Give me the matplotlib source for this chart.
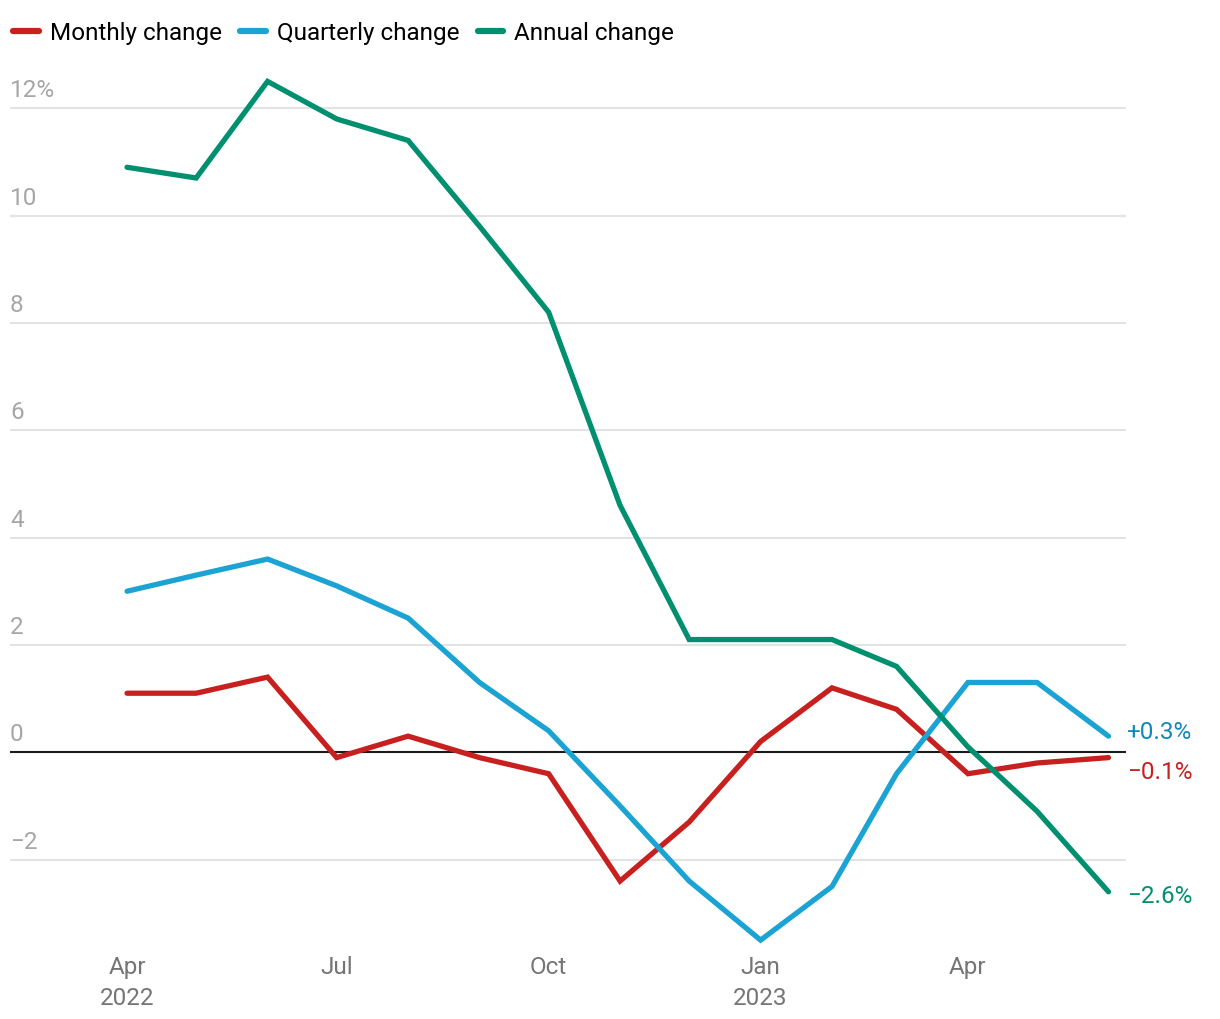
import matplotlib
matplotlib.use('Agg')
import matplotlib.pyplot as plt
from matplotlib.lines import Line2D
import pandas as pd

plt.rcParams['font.family'] = ['Roboto', 'DejaVu Sans']

# Data: monthly points, Apr 2022 .. Jun 2023
months = pd.date_range('2022-04-01', '2023-06-01', freq='MS')
monthly = [1.1, 1.1, 1.4, -0.1, 0.3, -0.1, -0.4, -2.4, -1.3, 0.2, 1.2, 0.8, -0.4, -0.2, -0.1]
quarterly = [3.0, 3.3, 3.6, 3.1, 2.5, 1.3, 0.4, -1.0, -2.4, -3.5, -2.5, -0.4, 1.3, 1.3, 0.3]
annual = [10.9, 10.7, 12.5, 11.8, 11.4, 9.8, 8.2, 4.6, 2.1, 2.1, 2.1, 1.6, 0.1, -1.1, -2.6]

series_names = ['Monthly change', 'Quarterly change', 'Annual change']
end_labels = ['\u22120.1%', '+0.3%', '\u22122.6%']
end_offsets = [-10, 3, -3]   # vertical nudge (points) so labels don't collide
colors = ['#c8201f', '#1ba3d3', '#00906f']
label_colors = ['#c8201f', '#1188b8', '#00906f']

x_ticks = pd.to_datetime(['2022-04-01', '2022-07-01', '2022-10-01', '2023-01-01', '2023-04-01'])
x_ticklabels = ['Apr\n2022', 'Jul', 'Oct', 'Jan\n2023', 'Apr']
y_ticks = [-2, 0, 2, 4, 6, 8, 10, 12]
y_ticklabels = ['\u22122', '0', '2', '4', '6', '8', '10', '12%']

FS = 17.5

fig = plt.figure(figsize=(12.2, 10.2), dpi=100)
ax = fig.add_axes([10 / 1220, 1 - 947 / 1020, 1116 / 1220, 885 / 1020])
start = months[0]
ax.set_xlim(start - pd.Timedelta(days=50.8), start + pd.Timedelta(days=433.6))
ax.set_ylim(-3.61, 12.88)

for yv in y_ticks:
    if yv == 0:
        continue
    ax.axhline(yv, color='#e3e3e3', lw=1.5, zorder=1)
ax.axhline(0, color='#1a1a1a', lw=1.5, zorder=2)

for vals, c in zip([monthly, quarterly, annual], colors):
    ax.plot(months, vals, color=c, lw=3.8, solid_capstyle='round', solid_joinstyle='miter', zorder=3)

# y labels drawn inside plot, above gridlines
for yv, lab in zip(y_ticks, y_ticklabels):
    ax.annotate(lab, xy=(0, yv), xycoords=('axes fraction', 'data'),
                xytext=(0, 5), textcoords='offset points',
                ha='left', va='bottom', fontsize=FS, color='#a6a6a6')

# end labels
for vals, lab, c, dy in zip([monthly, quarterly, annual], end_labels, label_colors, end_offsets):
    ax.annotate(lab, xy=(months[-1], vals[-1]), xytext=(13, dy), textcoords='offset points',
                ha='left', va='center', fontsize=FS, color=c, annotation_clip=False)

ax.set_xticks(x_ticks)
ax.set_xticklabels(x_ticklabels, fontsize=FS, color='#757575', linespacing=1.45)
ax.tick_params(axis='x', length=0, pad=6.5)
ax.set_yticks([])
for s in ax.spines.values():
    s.set_visible(False)

handles = [Line2D([0], [0], color=c, lw=4.5, solid_capstyle='round') for c in colors]
fig.legend(handles, series_names, loc='upper left', bbox_to_anchor=(-0.003, 0.995),
           ncol=3, frameon=False, fontsize=FS, handlelength=1.05, handletextpad=0.45,
           columnspacing=0.765, borderaxespad=0.4, borderpad=0.3)

fig.savefig('out.png', dpi=100, facecolor='white')
